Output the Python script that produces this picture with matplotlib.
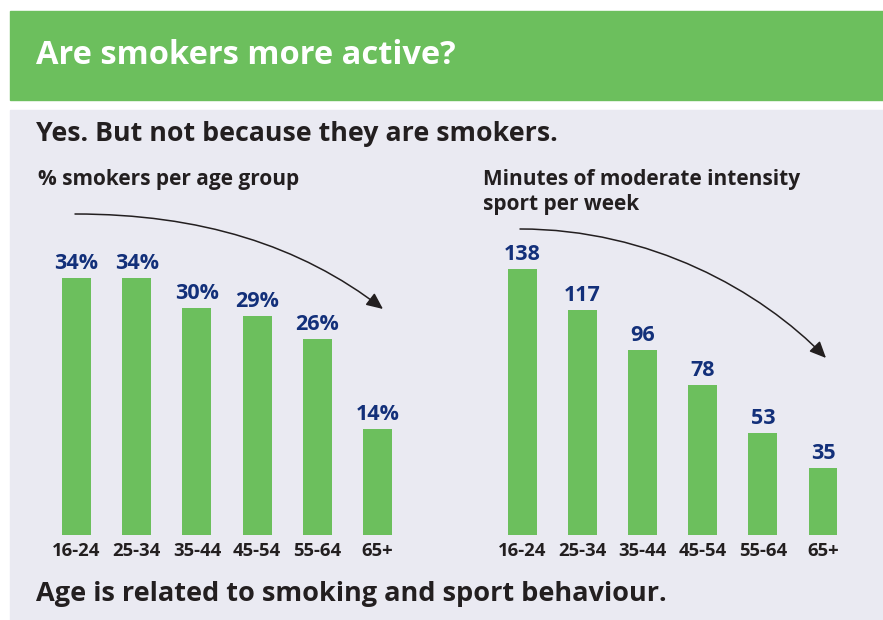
import matplotlib
matplotlib.use("Agg")
import matplotlib.pyplot as plt
from matplotlib.patches import Rectangle, FancyArrowPatch
from matplotlib.path import Path

# Data
age_groups = ["16-24", "25-34", "35-44", "45-54", "55-64", "65+"]
smokers_pct = [34, 34, 30, 29, 26, 14]
sport_minutes = [138, 117, 96, 78, 53, 35]

GREEN = "#6cbf5d"
PANEL = "#eaeaf2"
NAVY = "#13307a"
DARK = "#231f20"
FONT = "Open Sans"

W, H = 883, 620
fig = plt.figure(figsize=(W / 100, H / 100), dpi=100)
fig.patch.set_facecolor("white")


def fx(x):
    return x / W


def fy(y):
    return 1 - y / H


def px_box(x0, y0, x1, y1):
    """Convert a pixel box (top-left origin) into figure fractions."""
    return [fx(x0), fy(y1), (x1 - x0) / W, (y1 - y0) / H]


# Header band and panel (drawn beneath the axes)
fig.patches.append(Rectangle((fx(10), fy(100)), (W - 10) / W, 89 / H,
                             transform=fig.transFigure, color=GREEN, zorder=-2))
fig.patches.append(Rectangle((fx(10), 0), (W - 10) / W, fy(110),
                             transform=fig.transFigure, color=PANEL, zorder=-2))

fig.text(fx(36), fy(56), "Are smokers more active?", color="white",
         fontsize=23.5, fontweight="bold", family=FONT, va="center", ha="left")
fig.text(fx(36), fy(134), "Yes. But not because they are smokers.", color=DARK,
         fontsize=19.3, fontweight="bold", family=FONT, va="center", ha="left")
fig.text(fx(38), fy(180), "% smokers per age group", color=DARK,
         fontsize=15, fontweight="bold", family=FONT, va="center", ha="left")
fig.text(fx(483), fy(180), "Minutes of moderate intensity", color=DARK,
         fontsize=15, fontweight="bold", family=FONT, va="center", ha="left")
fig.text(fx(483), fy(204), "sport per week", color=DARK,
         fontsize=15, fontweight="bold", family=FONT, va="center", ha="left")
fig.text(fx(36), fy(594), "Age is related to smoking and sport behaviour.", color=DARK,
         fontsize=19.5, fontweight="bold", family=FONT, va="center", ha="left")


def bar_panel(rect, values, ymax, fmt):
    ax = fig.add_axes(rect)
    ax.set_facecolor("none")
    x = range(len(values))
    bars = ax.bar(x, values, width=0.48, color=GREEN)
    ax.set_xlim(-0.5, len(values) - 0.5)
    ax.set_ylim(0, ymax)
    for b, v in zip(bars, values):
        ax.annotate(fmt.format(v), (b.get_x() + b.get_width() / 2, v),
                    xytext=(0, 4), textcoords="offset pixels",
                    ha="center", va="bottom", color=NAVY,
                    fontsize=15.5, fontweight="bold", family=FONT)
    ax.set_xticks(list(x))
    ax.set_xticklabels(age_groups, fontsize=13.3, fontweight="bold",
                       family=FONT, color=DARK)
    ax.tick_params(axis="x", length=0, pad=5)
    ax.set_yticks([])
    for s in ax.spines.values():
        s.set_visible(False)
    return ax


# Left: 7.55 px per percentage point, baseline at y=535 px
left_scale = 7.55
ax1 = bar_panel(px_box(46.4, 535 - 40 * left_scale, 407.6, 535),
                smokers_pct, 40, "{}%")
# Right: 1.925 px per minute
right_scale = 1.925
ax2 = bar_panel(px_box(492.4, 535 - 160 * right_scale, 853.0, 535),
                sport_minutes, 160, "{}")


def curved_arrow(p0, c1, c2, p1):
    verts = [(fx(p[0]), fy(p[1])) for p in (p0, c1, c2, p1)]
    path = Path(verts, [Path.MOVETO, Path.CURVE4, Path.CURVE4, Path.CURVE4])
    path = fig.transFigure.transform_path(path)
    arr = FancyArrowPatch(path=path,
                          arrowstyle="-|>,head_length=10,head_width=4.5",
                          mutation_scale=1, lw=1.1, color=DARK, zorder=5)
    arr.set_transform(matplotlib.transforms.IdentityTransform())
    fig.patches.append(arr)


curved_arrow((75, 214), (200, 214), (300, 245), (383, 309))
curved_arrow((520, 229), (650, 229), (760, 290), (826, 358))

fig.savefig("out.png", dpi=100)
